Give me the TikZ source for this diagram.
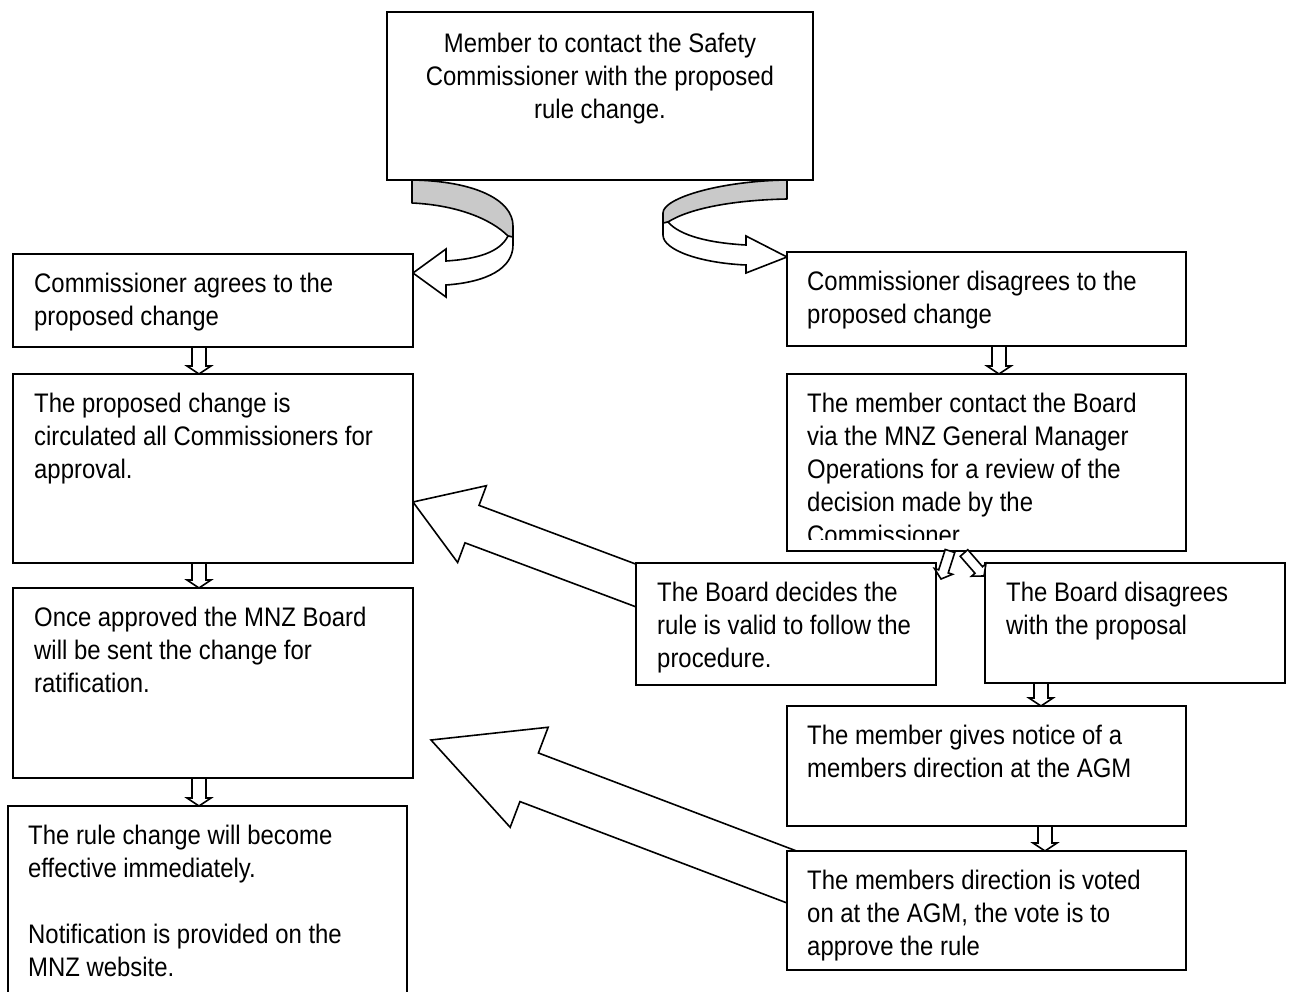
\documentclass[tikz,border=0pt]{standalone}
\usepackage{fontspec}
\setmainfont[FakeStretch=0.892]{Liberation Sans}
\usetikzlibrary{calc}
\pgfdeclarelayer{back}
\pgfdeclarelayer{bg}
\pgfsetlayers{back,bg,main}
\tikzset{
  box/.style={draw, line width=1.8pt, fill=white, anchor=north west, inner sep=0pt, outer sep=0pt},
  txt/.style={anchor=north west, inner sep=0pt, align=left, font=\fontsize{26.8}{33}\selectfont},
  barrow/.style={draw, line width=1.6pt, fill=white, line join=miter},
  curvgrey/.style={draw, line width=1.6pt, fill=black!21, line join=round},
  curvwhite/.style={draw, line width=1.6pt, fill=white, line join=miter},
}
\newcommand\fs{\rule{0pt}{25pt}}
% block arrow: tail, tip, shaft half width, head half width, head length
\newcommand\blockarr[5]{%
  \coordinate (ba-b) at ($(#2)!#5!(#1)$);
  \draw[barrow] ($(#1)!#3!90:(#2)$) -- ($(ba-b)!#3!90:(#2)$) -- ($(ba-b)!#4!90:(#2)$)
    -- (#2) -- ($(ba-b)!#4!-90:(#2)$) -- ($(ba-b)!#3!-90:(#2)$) -- ($(#1)!#3!-90:(#2)$) -- cycle;
}
\begin{document}
\begin{tikzpicture}[x=1pt, y=-1pt]
\path[use as bounding box, clip] (0,0) rectangle (1290,992);
\begin{pgfonlayer}{back}
\fill[white] (0,0) rectangle (1290,992);
\end{pgfonlayer}

% boxes
\node[box, minimum width=426pt, minimum height=168pt] (T) at (387,12) {};
\node[box, minimum width=400pt, minimum height=93pt] (A) at (13,254) {};
\node[box, minimum width=400pt, minimum height=189pt] (B) at (13,374) {};
\node[box, minimum width=400pt, minimum height=190pt] (C) at (13,588) {};
\node[box, minimum width=399pt, minimum height=204pt] (D) at (8,806) {};
\node[box, minimum width=399pt, minimum height=94pt] (E) at (787,252) {};
\node[box, minimum width=399pt, minimum height=177pt] (F) at (787,374) {};
\node[box, minimum width=300pt, minimum height=122pt] (G) at (636,563) {};
\node[box, minimum width=300pt, minimum height=120pt] (H) at (985,563) {};
\node[box, minimum width=399pt, minimum height=120pt] (I) at (787,706) {};
\node[box, minimum width=399pt, minimum height=119pt] (J) at (787,851) {};

% texts (first baseline 38pt below box top)
\node[txt, anchor=north, align=center] (T-t) at ($(T.north)+(0,15)$) {\fs Member to contact the Safety\\Commissioner with the proposed\\rule change.};
\node[txt] (A-t) at ($(A.north west)+(21,13)$) {\fs Commissioner agrees to the\\proposed change};
\node[txt] (B-t) at ($(B.north west)+(21,13)$) {\fs The proposed change is\\circulated all Commissioners for\\approval.};
\node[txt] (C-t) at ($(C.north west)+(21,13)$) {\fs Once approved the MNZ Board\\will be sent the change for\\ratification.};
\node[txt] (D-t) at ($(D.north west)+(20,13)$) {\fs The rule change will become\\effective immediately.\\[33pt]Notification is provided on the\\MNZ website.};
\node[txt] (E-t) at ($(E.north west)+(20,13)$) {\fs Commissioner disagrees to the\\proposed change};
\begin{scope}
  \clip ($(F.north west)+(2,2)$) rectangle ($(F.south east)+(-2,-12)$);
  \node[txt] (F-t) at ($(F.north west)+(20,13)$) {\fs The member contact the Board\\via the MNZ General Manager\\Operations for a review of the\\decision made by the\\Commissioner};
\end{scope}
\node[txt] (G-t) at ($(G.north west)+(21,13)$) {\fs The Board decides the\\rule is valid to follow the\\procedure.};
\node[txt] (H-t) at ($(H.north west)+(21,13)$) {\fs The Board disagrees\\with the proposal};
\node[txt] (I-t) at ($(I.north west)+(20,13)$) {\fs The member gives notice of a\\members direction at the AGM};
\node[txt] (J-t) at ($(J.north west)+(20,13)$) {\fs The members direction is voted\\on at the AGM, the vote is to\\approve the rule};

% background: big arrows and curved arrows
\begin{pgfonlayer}{bg}
  \coordinate (gbT) at (656,593);
  \coordinate (gbP) at (B.east |- 0,502);
  \blockarr{gbT}{gbP}{20pt}{41pt}{63pt}
  \coordinate (jcT) at (805,882);
  \coordinate (jcP) at (431,740);
  \blockarr{jcT}{jcP}{26pt}{53.5pt}{105pt}
  % left curved arrow (T -> A)
  \draw[curvgrey] (412,175) -- (412,180) .. controls (475,181) and (513,200) .. (513,226)
      -- (513,238) -- (508,236) .. controls (490,218) and (455,205) .. (412,203) -- cycle;
  \draw[curvwhite] (508,236) .. controls (500,252) and (478,259) .. (446,261) -- (446,249)
      -- (A.east |- 0,273) -- (446,297) -- (446,285) .. controls (488,282) and (513,268) .. (513,245)
      -- (513,237) -- cycle;
  % right curved arrow (T -> E)
  \draw[curvgrey] (787,175) -- (787,180) .. controls (720,181) and (663,198) .. (663,213)
      -- (663,224) -- (668,222) .. controls (690,208) and (735,200) .. (787,199) -- cycle;
  \draw[curvwhite] (668,222) .. controls (680,236) and (710,243) .. (746,245) -- (746,236)
      -- (E.west |- 0,257) -- (746,273) -- (746,265) .. controls (700,263) and (663,250) .. (663,235)
      -- (663,223) -- cycle;
\end{pgfonlayer}

% small arrows
\coordinate (xl) at (199,0);
\coordinate (xe) at (999,0);
\coordinate (xh) at (1041,0);
\coordinate (xi) at (1045,0);
\coordinate (ab1) at (xl |- A.south); \coordinate (ab2) at (xl |- B.north);
\blockarr{ab1}{ab2}{7pt}{12pt}{8pt}
\coordinate (bc1) at (xl |- B.south); \coordinate (bc2) at (xl |- C.north);
\blockarr{bc1}{bc2}{7pt}{12pt}{8pt}
\coordinate (cd1) at (xl |- C.south); \coordinate (cd2) at (xl |- D.north);
\blockarr{cd1}{cd2}{7pt}{12pt}{8pt}
\coordinate (ef1) at (xe |- E.south); \coordinate (ef2) at (xe |- F.north);
\blockarr{ef1}{ef2}{7pt}{12pt}{8pt}
\coordinate (hi1) at (xh |- H.south); \coordinate (hi2) at (xh |- I.north);
\blockarr{hi1}{hi2}{7pt}{12pt}{8pt}
\coordinate (ij1) at (xi |- I.south); \coordinate (ij2) at (xi |- J.north);
\blockarr{ij1}{ij2}{7pt}{12pt}{8pt}
\coordinate (fg1) at (950,551); \coordinate (fg2) at (941,579);
\blockarr{fg1}{fg2}{5pt}{9.5pt}{8pt}
\coordinate (fh1) at (964,553); \coordinate (fh2) at (984,576);
\blockarr{fh1}{fh2}{5pt}{9.5pt}{8pt}
\end{tikzpicture}
\end{document}
